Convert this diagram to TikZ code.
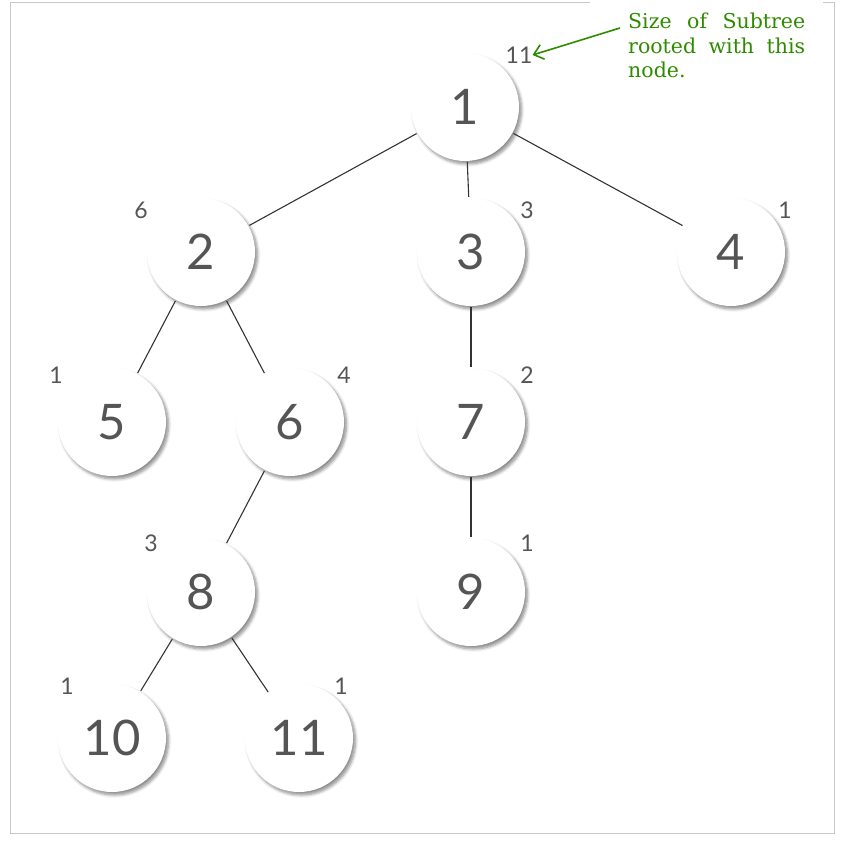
\documentclass[tikz,border=0pt]{standalone}
\usepackage{fontspec}
\setmainfont{Lato}
\newfontfamily\notefont{DejaVu Serif}
\usetikzlibrary{shadows.blur,arrows.meta}
\definecolor{numgray}{HTML}{555555}
\definecolor{edgegray}{HTML}{333333}
\definecolor{framegray}{HTML}{C8C8C8}
\definecolor{notegreen}{HTML}{2E8B00}
\begin{document}
\begin{tikzpicture}[x=1pt,y=-1pt,
  tn/.style={circle,fill=white,minimum size=108pt,inner sep=0pt,text=numgray,
    font=\fontsize{49}{49}\selectfont,
    blur shadow={shadow xshift=2.5pt,shadow yshift=-3pt,shadow blur steps=6,shadow opacity=45,shadow blur radius=3pt}},
  sz/.style={text=numgray,font=\fontsize{23}{23}\selectfont,inner sep=0pt},
  edge/.style={draw=edgegray,line width=1.1pt,shorten <=1pt,shorten >=1pt},
  noteline/.style={anchor=base west,inner sep=0pt,text=notegreen,font=\notefont\fontsize{20.5}{24}\selectfont}]
\useasboundingbox (0,0) rectangle (846,842);
% frame
\draw[framegray,line width=1pt] (590,3) -- (10,3) -- (10,833) -- (834,833) -- (834,3) -- (823,3);
% nodes
\node[tn] (n1) at (465,107) {1};
\node[tn] (n2) at (201,252) {2};
\node[tn] (n3) at (471,252) {3};
\node[tn] (n4) at (731,252) {4};
\node[tn] (n5) at (112,422) {5};
\node[tn] (n6) at (290,422) {6};
\node[tn] (n7) at (471,422) {7};
\node[tn] (n8) at (201,592) {8};
\node[tn] (n9) at (471,592) {9};
\node[tn] (n10) at (112,738) {10};
\node[tn] (n11) at (299,738) {11};
% edges
\draw[edge] (n1) -- (n2);
\draw[edge] (n1) -- (n3);
\draw[edge] (n1) -- (n4);
\draw[edge] (n2) -- (n5);
\draw[edge] (n2) -- (n6);
\draw[edge] (n3) -- (n7);
\draw[edge] (n7) -- (n9);
\draw[edge] (n6) -- (n8);
\draw[edge] (n8) -- (n10);
\draw[edge] (n8) -- (n11);
% sizes
\node[sz] (s1) at (519,55) {11};
\node[sz] at (141,210) {6};
\node[sz] at (527,210) {3};
\node[sz] at (785,210) {1};
\node[sz] at (56,375) {1};
\node[sz] at (344,375) {4};
\node[sz] at (527,375) {2};
\node[sz] at (151,543) {3};
\node[sz] at (527,543) {1};
\node[sz] at (67,686) {1};
\node[sz] at (341,686) {1};
% note
\node[noteline] (note1) at (628,29) {\makebox[177pt][s]{Size of Subtree}};
\node[noteline] (note2) at (628,54) {\makebox[177pt][s]{rooted with this}};
\node[noteline] (note3) at (628,78) {node.};
\coordinate (tail) at (620,28);
\draw[notegreen,line width=1.6pt,-{Straight Barb[length=9pt,width=15pt]}] (tail) -- (s1.east);
\end{tikzpicture}
\end{document}
